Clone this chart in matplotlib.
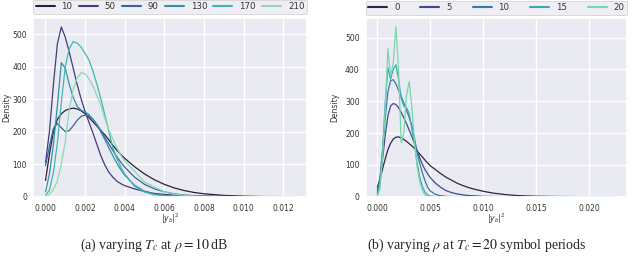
import numpy as np
import matplotlib
matplotlib.use("Agg")
import matplotlib.pyplot as plt
import seaborn as sns

# ---------------- data: panel (a) ----------------
x_a = [0, .0002, .0004, .0006, .0008, .0010, .0012, .0014, .0016, .0018, .0020,
       .0022, .0024, .0026, .0028, .0030, .0032, .0034, .0036, .0038, .0040,
       .0045, .0050, .0055, .0060, .0065, .0070, .0075, .0080,
       .0090, .0100, .0110, .0120, .0126]
Tc_labels = ["10", "50", "90", "130", "170", "210"]
d_Tc10 = [50, 130, 200, 238, 255, 265, 270, 272, 270, 264, 255,
          243, 230, 217, 203, 190, 175, 158, 143, 130, 118,
          92, 70, 52, 38, 27, 19, 13, 9,
          4, 1.5, 0.5, 0.2, 0.1]
d_Tc50 = [105, 200, 345, 470, 522, 490, 445, 395, 345, 300, 262,
          228, 195, 160, 125, 97, 75, 60, 48, 40, 34,
          24, 16, 10, 7, 5, 4, 3, 2,
          1, 0.5, 0.2, 0.1, 0.05]
d_Tc90 = [95, 155, 210, 225, 212, 200, 203, 218, 235, 247, 251,
          248, 238, 222, 203, 182, 162, 142, 123, 106, 91,
          60, 38, 24, 15, 9, 5, 3, 2,
          0.8, 0.3, 0.1, 0.05, 0.02]
d_Tc130 = [15, 70, 160, 280, 412, 395, 345, 305, 278, 266, 260,
           252, 238, 220, 198, 175, 150, 126, 103, 83, 66,
           35, 17, 8, 4, 2, 1, 0.5, 0.2,
           0.05, 0.02, 0, 0, 0]
d_Tc170 = [5, 20, 75, 165, 290, 400, 455, 477, 472, 460, 440,
           420, 385, 345, 300, 250, 200, 150, 118, 92, 70,
           32, 14, 6, 3, 1, 0.5, 0.2, 0.1,
           0, 0, 0, 0, 0]
d_Tc210 = [2, 8, 22, 48, 100, 170, 268, 330, 365, 381, 378,
           362, 340, 310, 280, 240, 205, 178, 150, 128, 110,
           78, 45, 30, 15, 8, 4, 2, 1,
           0.3, 0.1, 0, 0, 0]

# ---------------- data: panel (b) ----------------
x_b = [0, .00025, .0005, .00075, .0010, .00125, .0015, .00175, .0020, .00225,
       .0025, .00275, .0030, .00325, .0035, .00375, .0040, .00425, .0045, .00475,
       .0050, .0055, .0060, .0065, .0070, .0075, .0080, .0085, .0090, .0095,
       .0100, .0110, .0120, .0130, .0140, .0150, .0160, .0170, .0180, .0190,
       .0200, .0210, .0220, .0224]
rho_labels = ["0", "5", "10", "15", "20"]
d_rho0 = [30, 55, 88, 120, 148, 168, 181, 187, 188, 185,
          180, 174, 167, 160, 152, 144, 134, 125, 115, 106,
          97, 85, 72, 61, 52, 43, 36, 30, 25, 21,
          17, 11, 7, 4, 2.5, 1.5, 1, 0.6, 0.4, 0.2,
          0.1, 0.06, 0.03, 0.02]
d_rho5 = [20, 55, 120, 195, 255, 285, 293, 290, 280, 265,
          248, 230, 210, 190, 168, 146, 122, 102, 85, 72,
          60, 42, 29, 19, 13, 9, 6, 4, 3, 2,
          1.2, 0.5, 0.2, 0.1, 0.05, 0, 0, 0, 0, 0,
          0, 0, 0, 0]
d_rho10 = [12, 60, 150, 250, 330, 365, 368, 355, 335, 315,
           295, 272, 250, 225, 185, 140, 105, 75, 50, 30,
           18, 7, 3, 1, 0.4, 0.1, 0, 0, 0, 0,
           0, 0, 0, 0, 0, 0, 0, 0, 0, 0,
           0, 0, 0, 0]
d_rho15 = [5, 40, 150, 300, 405, 370, 400, 415, 370, 310,
           285, 280, 262, 215, 165, 108, 62, 32, 14, 6,
           2, 0.3, 0, 0, 0, 0, 0, 0, 0, 0,
           0, 0, 0, 0, 0, 0, 0, 0, 0, 0,
           0, 0, 0, 0]
d_rho20 = [0, 25, 130, 280, 465, 380, 420, 535, 400, 170,
           200, 320, 362, 285, 175, 95, 47, 20, 6, 2,
           0.5, 0, 0, 0, 0, 0, 0, 0, 0, 0,
           0, 0, 0, 0, 0, 0, 0, 0, 0, 0,
           0, 0, 0, 0]

series_a = [d_Tc10, d_Tc50, d_Tc90, d_Tc130, d_Tc170, d_Tc210]
series_b = [d_rho0, d_rho5, d_rho10, d_rho15, d_rho20]

sns.set_theme(style="darkgrid")
plt.rcParams['font.family'] = ['DejaVu Sans']
plt.rcParams['mathtext.fontset'] = 'dejavusans'

W, H = 640, 258
fig = plt.figure(figsize=(6.4, 2.58), dpi=100)
ax1 = fig.add_axes([33/W, 1-196.7/H, (307-33)/W, (196.7-17.5)/H])
ax2 = fig.add_axes([365.7/W, 1-196.7/H, (627.3-365.7)/W, (196.7-18.3)/H])

FS = 5.5
TXT = '#333333'

def style(ax, n, labels, series, xs, xlim, ylim, xticks, xticklabels, ylab_px):
    cols = sns.color_palette("mako", n)
    for lab, ys, c in zip(labels, series, cols):
        ax.plot(xs, ys, color=c, lw=0.9, label=lab)
    ax.set_xlim(*xlim)
    ax.set_ylim(*ylim)
    ax.set_xticks(xticks)
    ax.set_xticklabels(xticklabels)
    ax.set_yticks([0, 100, 200, 300, 400, 500])
    ax.tick_params(axis='x', labelsize=FS, pad=5.0, length=0, colors=TXT)
    ax.tick_params(axis='y', labelsize=FS, pad=4.3, length=0, colors=TXT)
    ax.grid(True, color='white', lw=1.0)
    ax.set_ylabel("Density", fontsize=FS, color=TXT)
    ax.set_xlabel(r"$|y_b|^2$", fontsize=FS, color=TXT)
    bb = ax.get_position()
    x_ax = (ylab_px / W - bb.x0) / bb.width
    ax.yaxis.set_label_coords(x_ax, 0.5)
    y_ax = ((1 - 218.5 / H) - bb.y0) / bb.height
    ax.xaxis.set_label_coords(0.5, y_ax)
    ax.xaxis.label.set_va('center')
    ax.yaxis.label.set_va('center')
    leg = ax.legend(loc='lower left', bbox_to_anchor=(0, 1.02, 1, 0.075),
                    mode='expand', ncol=n, fontsize=6.2, frameon=True,
                    handlelength=2.2, borderaxespad=0, borderpad=0.3,
                    handletextpad=0.8)
    for t in leg.get_texts():
        t.set_color(TXT)
    for ln in leg.get_lines():
        ln.set_linewidth(1.5)
    leg.get_frame().set_linewidth(0.6)

style(ax1, 6, Tc_labels, series_a, x_a, (-0.00063, 0.0132), (0, 551),
      [0, .002, .004, .006, .008, .010, .012],
      ["0.000", "0.002", "0.004", "0.006", "0.008", "0.010", "0.012"], 7)
style(ax2, 5, rho_labels, series_b, x_b, (-0.0011, 0.0236), (0, 561),
      [0, .005, .010, .015, .020],
      ["0.000", "0.005", "0.010", "0.015", "0.020"], 335)

cap_font = dict(family=['Liberation Serif', 'DejaVu Serif'], fontsize=10)
plt.rcParams['mathtext.fontset'] = 'stix'
fig.text(154/W, 1-245/H, r"(a) varying $T_c$ at $\rho = 10\,$dB",
         ha='center', va='center', **cap_font)
fig.text(477/W, 1-245/H, r"(b) varying $\rho$ at $T_c = 20$ symbol periods",
         ha='center', va='center', **cap_font)

fig.savefig("out.png", dpi=100)
